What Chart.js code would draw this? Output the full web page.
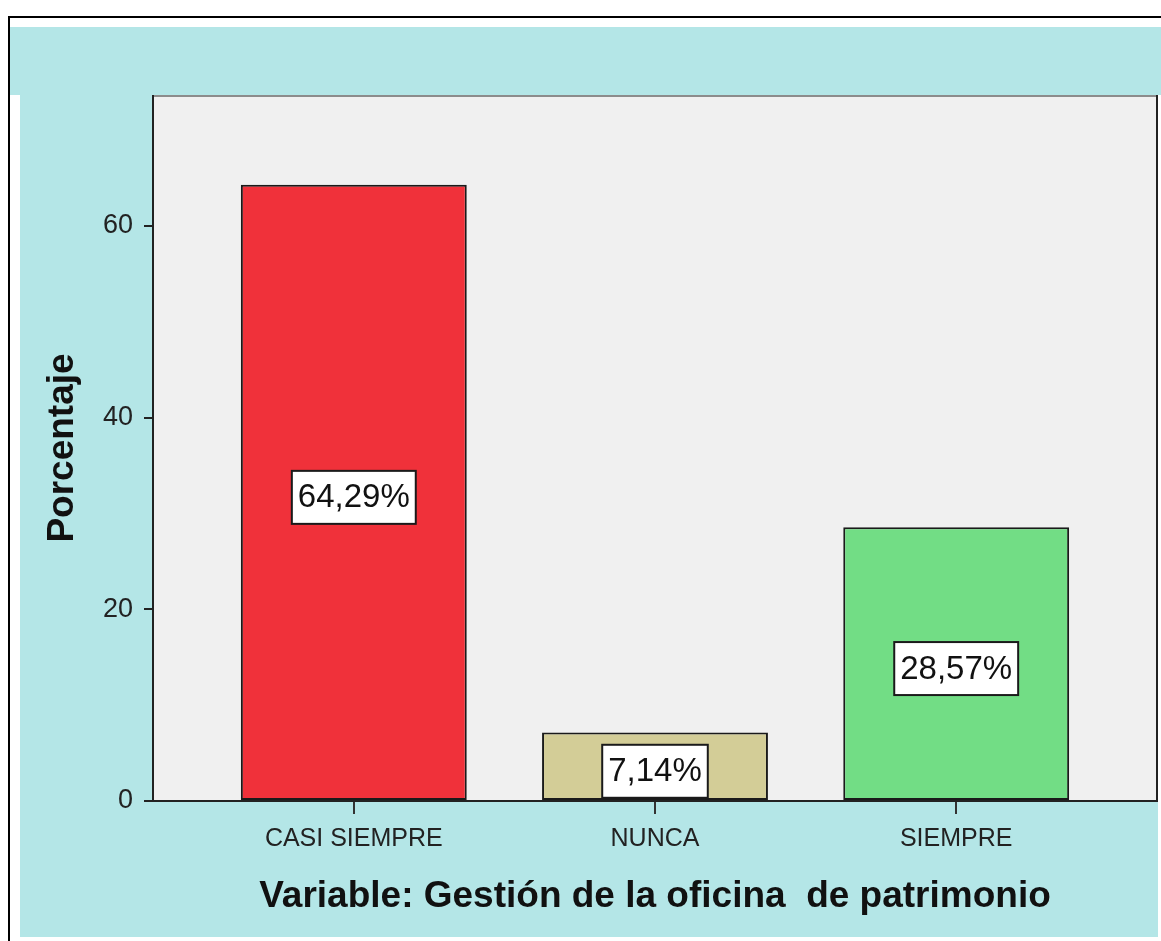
<!DOCTYPE html>
<html>
<head>
    <title>Gestión de la oficina de patrimonio</title>
    <script src="https://cdn.jsdelivr.net/npm/chart.js"></script>
    <style>
        body { margin: 0; background: #ffffff; overflow: hidden; }
        #wrap { width: 1161px; height: 941px; position: relative; }
    </style>
</head>
<body>
<div id="wrap"><canvas id="barChart"></canvas></div>

<script>
    // data
    const categories = ['CASI SIEMPRE', 'NUNCA', 'SIEMPRE'];
    const percentages = [64.29, 7.14, 28.57];
    const percentLabels = ['64,29%', '7,14%', '28,57%'];
    const yTicks = [0, 20, 40, 60];
    const barColors = ['#f0313a', '#d3cd97', '#72dd85'];

    const cyan = '#b4e6e7';

    // page frame, cyan panel and grey plot background
    const backdrop = {
        id: 'backdrop',
        beforeDraw(chart) {
            const ctx = chart.ctx;
            const a = chart.chartArea;
            ctx.save();
            ctx.fillStyle = '#ffffff';
            ctx.fillRect(0, 0, chart.width, chart.height);
            ctx.fillStyle = cyan;
            ctx.fillRect(10, 27, chart.width - 10, a.top - 27);
            ctx.fillRect(20, a.top, a.right - 20, 937 - a.top);
            ctx.fillStyle = '#f0f0f0';
            ctx.fillRect(a.left, a.top, a.right - a.left, a.bottom - a.top);
            ctx.strokeStyle = '#000000';
            ctx.lineWidth = 2;
            ctx.beginPath();
            ctx.moveTo(9, chart.height + 5);
            ctx.lineTo(9, 17);
            ctx.lineTo(chart.width + 5, 17);
            ctx.stroke();
            ctx.restore();
        },
        afterDatasetsDraw(chart) {
            const ctx = chart.ctx;
            const a = chart.chartArea;
            ctx.save();
            // plot frame
            ctx.lineWidth = 2;
            ctx.strokeStyle = '#8c8c8c';
            ctx.beginPath();
            ctx.moveTo(a.left, a.top + 1);
            ctx.lineTo(a.right, a.top + 1);
            ctx.stroke();
            ctx.strokeStyle = '#222222';
            ctx.beginPath();
            ctx.moveTo(a.left + 1, a.top);
            ctx.lineTo(a.left + 1, a.bottom);
            ctx.lineTo(a.right - 1, a.bottom);
            ctx.lineTo(a.right - 1, a.top);
            ctx.stroke();

            // value boxes in the middle of each bar
            ctx.font = '33px "Liberation Sans", Arial, sans-serif';
            ctx.textAlign = 'center';
            ctx.textBaseline = 'middle';
            chart.getDatasetMeta(0).data.forEach((bar, i) => {
                const p = bar.getProps(['x', 'y', 'base'], true);
                const cy = (p.y + p.base) / 2 + 5;
                const w = ctx.measureText(percentLabels[i]).width + 12;
                const h = 53;
                ctx.fillStyle = '#ffffff';
                ctx.fillRect(p.x - w / 2, cy - h / 2, w, h);
                ctx.strokeStyle = '#1a1a1a';
                ctx.lineWidth = 2;
                ctx.strokeRect(p.x - w / 2, cy - h / 2, w, h);
                ctx.fillStyle = '#111111';
                ctx.fillText(percentLabels[i], p.x, cy + 1);
            });
            ctx.restore();
        }
    };

    const ctx = document.getElementById('barChart').getContext('2d');
    new Chart(ctx, {
        type: 'bar',
        data: {
            datasets: [{
                data: categories.map((c, i) => ({ x: i, y: percentages[i] })),
                backgroundColor: barColors,
                borderColor: '#1a1a1a',
                borderWidth: 2,
                borderSkipped: false,
                categoryPercentage: 1,
                barPercentage: 0.75
            }]
        },
        options: {
            responsive: true,
            maintainAspectRatio: false,
            animation: false,
            layout: { padding: { left: 20, top: 95, right: 3, bottom: 0 } },
            plugins: {
                legend: { display: false },
                tooltip: { enabled: false }
            },
            scales: {
                x: {
                    type: 'linear',
                    offset: false,
                    min: -0.67,
                    max: 2.67,
                    afterBuildTicks: scale => {
                        scale.ticks = categories.map((c, i) => ({ value: i }));
                    },
                    afterFit: scale => { scale.height = 140; },
                    border: { display: false },
                    grid: {
                        offset: false,
                        drawOnChartArea: false,
                        drawTicks: true,
                        tickLength: 13,
                        tickColor: '#333333',
                        lineWidth: 2
                    },
                    ticks: {
                        autoSkip: false,
                        maxRotation: 0,
                        padding: 10,
                        color: '#222222',
                        font: { family: '"Liberation Sans", Arial, sans-serif', size: 25 },
                        callback: v => categories[v]
                    },
                    title: {
                        display: true,
                        text: 'Variable: Gestión de la oficina  de patrimonio',
                        color: '#111111',
                        font: { family: '"Liberation Sans", Arial, sans-serif', size: 37, weight: 'bold' },
                        padding: { top: 0, bottom: 22 }
                    }
                },
                y: {
                    min: 0,
                    max: 73.65,
                    afterBuildTicks: scale => {
                        scale.ticks = yTicks.map(v => ({ value: v }));
                    },
                    afterFit: scale => { scale.width = 132; },
                    border: { display: false },
                    grid: {
                        drawOnChartArea: false,
                        drawTicks: true,
                        tickLength: 8,
                        tickColor: '#222222',
                        lineWidth: 2
                    },
                    ticks: {
                        padding: 11,
                        color: '#222222',
                        font: { family: '"Liberation Sans", Arial, sans-serif', size: 27 }
                    },
                    title: {
                        display: true,
                        text: 'Porcentaje',
                        color: '#111111',
                        font: { family: '"Liberation Sans", Arial, sans-serif', size: 37, weight: 'bold' },
                        padding: { top: 21, bottom: 0 }
                    }
                }
            }
        },
        plugins: [backdrop]
    });
</script>
</body>
</html>
